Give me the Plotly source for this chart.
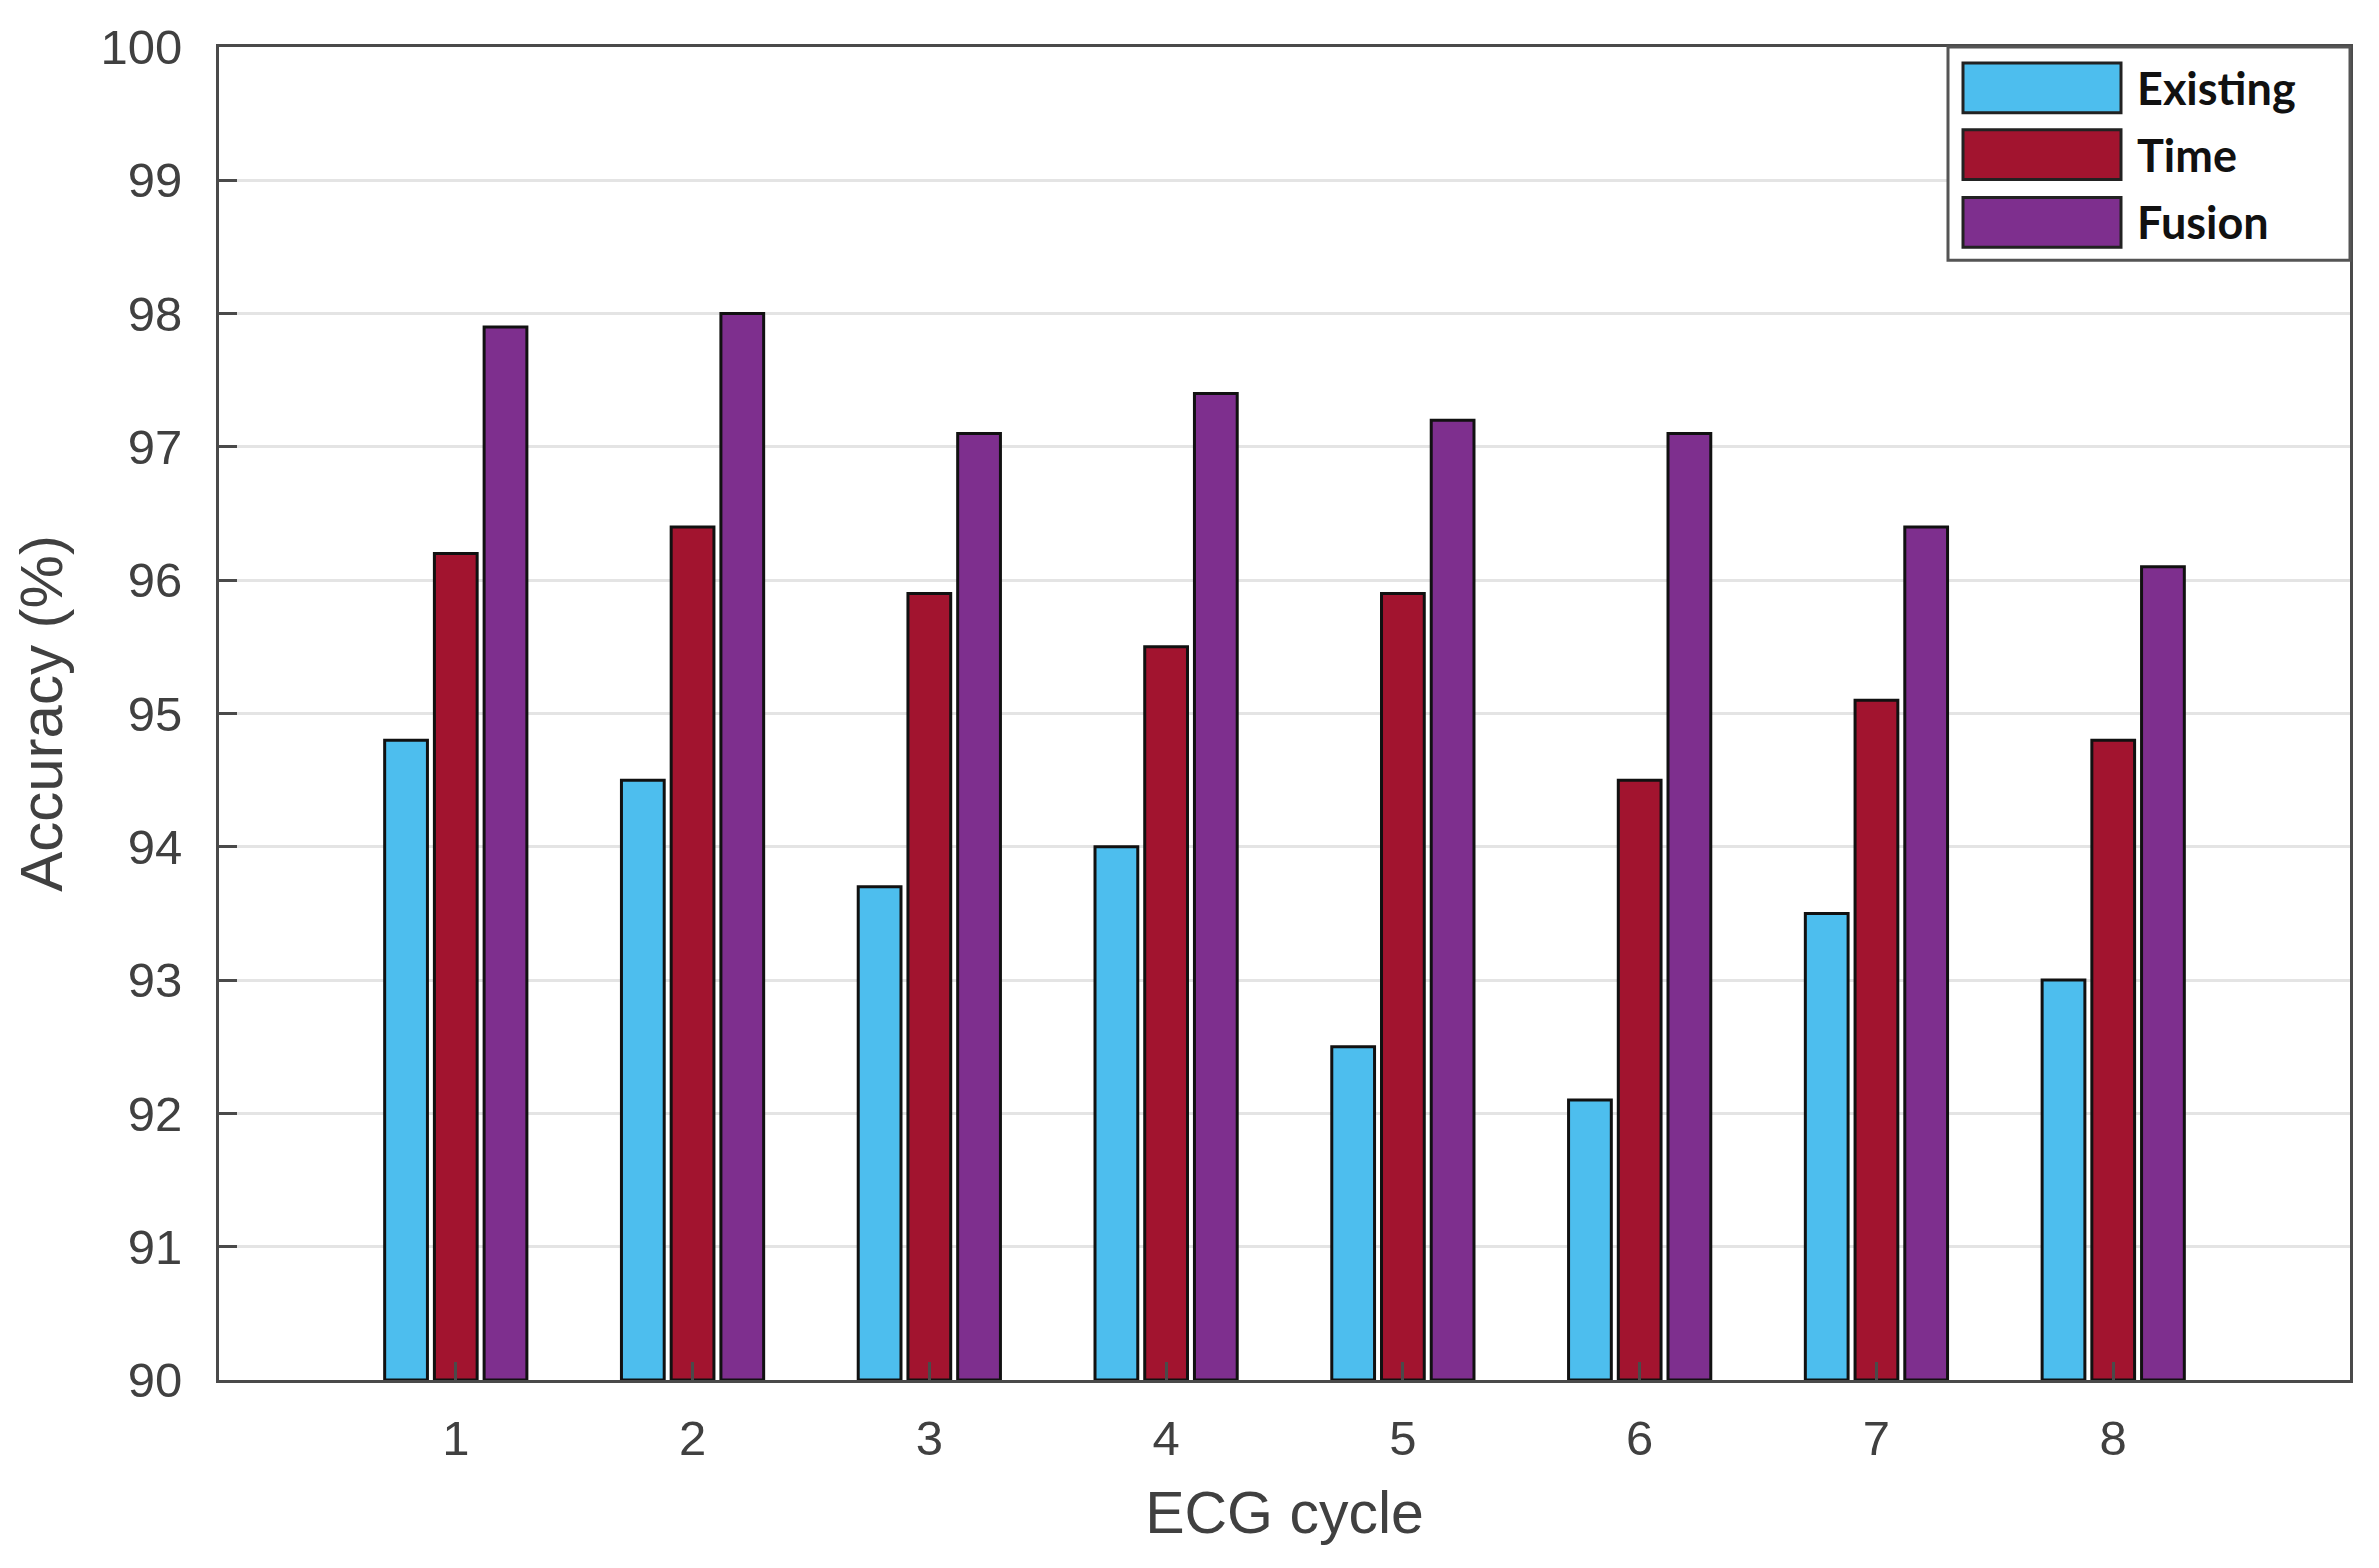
import plotly.graph_objects as go

cycles = [1, 2, 3, 4, 5, 6, 7, 8]
series_names = ["Existing", "Time", "Fusion"]
existing = [94.8, 94.5, 93.7, 94.0, 92.5, 92.1, 93.5, 93.0]
time_vals = [96.2, 96.4, 95.9, 95.5, 95.9, 94.5, 95.1, 94.8]
fusion = [97.9, 98.0, 97.1, 97.4, 97.2, 97.1, 96.4, 96.1]
colors = ["#4DBEEE", "#A2142F", "#7E2F8E"]
y_ticks = [90, 91, 92, 93, 94, 95, 96, 97, 98, 99, 100]
y_base = 90

W, H = 2379, 1568
ML, MR, MT, MB = 211, 37, 34, 196

fig = go.Figure()
for name, vals, col in zip(series_names, [existing, time_vals, fusion], colors):
    fig.add_trace(go.Bar(
        x=cycles, y=[v - y_base for v in vals], base=y_base, name=name,
        marker=dict(color=col, line=dict(color="#111111", width=3)),
        showlegend=False,
    ))

fig.update_layout(
    width=W, height=H,
    margin=dict(l=ML, r=MR, t=MT, b=MB),
    plot_bgcolor="white", paper_bgcolor="white",
    barmode="group", bargap=0.37, bargroupgap=0.14,
    font=dict(family="Liberation Sans, Arial, sans-serif", color="#404040"),
)
fig.update_xaxes(
    range=[0, 9], tickvals=cycles, ticktext=[str(c) for c in cycles],
    showline=True, linecolor="#4a4a4a", linewidth=3, mirror=True,
    ticks="inside", ticklen=18, tickwidth=3, tickcolor="#4a4a4a",
    showgrid=False, zeroline=False,
    tickfont=dict(size=49, color="#404040"),
    ticklabelstandoff=13, ticklabeloverflow="allow",
    title=dict(text="ECG cycle", font=dict(size=59, color="#404040"), standoff=28),
)
fig.update_yaxes(
    range=[90, 100], tickvals=y_ticks,
    showline=True, linecolor="#4a4a4a", linewidth=3, mirror=True,
    ticks="inside", ticklen=18, tickwidth=3, tickcolor="#4a4a4a",
    showgrid=True, gridcolor="#e4e4e4", gridwidth=3, zeroline=False,
    tickfont=dict(size=49, color="#404040"),
    ticklabelstandoff=24, ticklabeloverflow="allow",
    title=dict(text="Accuracy (%)", font=dict(size=60, color="#404040"), standoff=20),
)

# Custom legend (paper coordinates)
pw = W - ML - MR
ph = H - MT - MB
def px_x(p):
    return (p - ML) / pw
def px_y(p):
    return (H - MB - p) / ph

fig.add_shape(type="rect", xref="paper", yref="paper",
              x0=px_x(1940), x1=1.0, y0=px_y(248), y1=1.0,
              line=dict(color="#555555", width=3), fillcolor="white", layer="above")
row_tops = [50, 117, 185]
for name, col, top in zip(series_names, colors, row_tops):
    fig.add_shape(type="rect", xref="paper", yref="paper",
                  x0=px_x(1955), x1=px_x(2113), y0=px_y(top + 50), y1=px_y(top),
                  line=dict(color="#222222", width=3), fillcolor=col, layer="above")
    fig.add_annotation(xref="paper", yref="paper", x=px_x(2127), y=px_y(top + 25),
                       text=f"<b>{name}</b>", showarrow=False, xanchor="left", yanchor="middle",
                       font=dict(family="Lato, sans-serif", size=45, color="#111111"))

fig.write_html("out.html")
